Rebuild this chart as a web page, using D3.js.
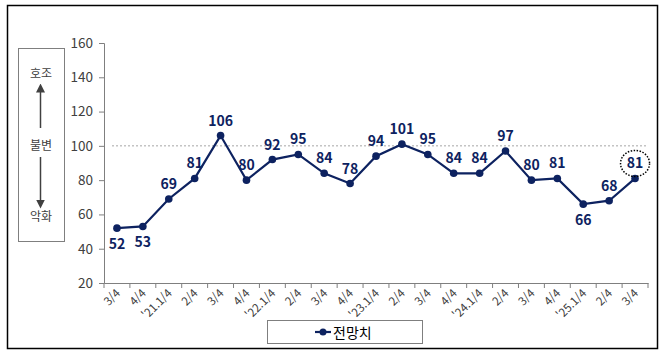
<!DOCTYPE html>
<html lang="ko">
<head>
<meta charset="UTF-8">
<script src="https://cdn.jsdelivr.net/npm/d3@7"></script>
<style>
  body { margin: 0; background: #fff; }
  svg text { font-family: "Noto Sans CJK KR", "Noto Sans", sans-serif; }
</style>
</head>
<body>
<div id="chart"></div>
<script>
// 분기 라벨과 전망치
const quarters = ["3/4", "4/4", "'21.1/4", "2/4", "3/4", "4/4", "'22.1/4", "2/4", "3/4", "4/4",
  "'23.1/4", "2/4", "3/4", "4/4", "'24.1/4", "2/4", "3/4", "4/4", "'25.1/4", "2/4", "3/4"];
const values = [52, 53, 69, 81, 106, 80, 92, 95, 84, 78, 94, 101, 95, 84, 84, 97, 80, 81, 66, 68, 81];
const yTicks = [20, 40, 60, 80, 100, 120, 140, 160];
// 라벨 위치 (a: 위, b: 아래)
const labelSide = ["b", "b", "a", "a", "a", "a", "a", "a", "a", "a",
  "a", "a", "a", "a", "a", "a", "a", "a", "b", "a", "a"];

const width = 665, height = 353;
const svg = d3.select("#chart").append("svg")
  .attr("width", width).attr("height", height);

const navy = "#0d2260";

// 바깥 테두리
svg.append("rect")
  .attr("x", 7.5).attr("y", 5.5).attr("width", 650).attr("height", 343)
  .attr("fill", "none").attr("stroke", "#000").attr("stroke-width", 1.5);

const x = d3.scaleBand().domain(d3.range(quarters.length)).range([104, 648]);
const y = d3.scaleLinear().domain([20, 160]).range([283, 43]);

// y축
const yAxis = svg.append("g")
  .attr("transform", "translate(104,0)")
  .call(d3.axisLeft(y).tickValues(yTicks).tickSize(5).tickPadding(6));
yAxis.select(".domain").attr("stroke", "#7f7f7f");
yAxis.selectAll(".tick line").attr("stroke", "#7f7f7f");
yAxis.selectAll(".tick text").attr("fill", "#404040").attr("font-size", 13.5)
  .attr("font-family", "Liberation Sans, Arial, sans-serif");

// x축
const xAxis = svg.append("g")
  .attr("transform", "translate(0,283)")
  .call(d3.axisBottom(x).tickSize(0).tickFormat(i => quarters[i]));
xAxis.select(".domain").attr("stroke", "#7f7f7f");
xAxis.selectAll(".tick text")
  .attr("fill", "#404040").attr("font-size", 11.5)
  .attr("font-family", "Liberation Sans, Arial, sans-serif")
  .attr("text-anchor", "end")
  .attr("transform", "translate(-1,6) rotate(-45)")
  .attr("dy", "0.35em");
// 구간 눈금
svg.append("g").selectAll("line")
  .data(d3.range(quarters.length + 1))
  .join("line")
  .attr("x1", i => i < quarters.length ? x(i) : x.range()[1])
  .attr("x2", i => i < quarters.length ? x(i) : x.range()[1])
  .attr("y1", 283).attr("y2", 288)
  .attr("stroke", "#7f7f7f");

// 100 기준선
svg.append("line")
  .attr("x1", 112).attr("x2", 648)
  .attr("y1", y(100)).attr("y2", y(100))
  .attr("stroke", "#a6a6a6").attr("stroke-dasharray", "2,2").attr("stroke-width", 1);

// 선
const cx = i => x(i) + x.bandwidth() / 2;
const line = d3.line().x((d, i) => cx(i)).y(d => y(d));
svg.append("path")
  .datum(values)
  .attr("fill", "none").attr("stroke", navy).attr("stroke-width", 2.2)
  .attr("d", line);

svg.append("g").selectAll("circle")
  .data(values)
  .join("circle")
  .attr("cx", (d, i) => cx(i)).attr("cy", d => y(d)).attr("r", 3.8)
  .attr("fill", navy);

// 값 라벨
svg.append("g").selectAll("text")
  .data(values)
  .join("text")
  .attr("x", (d, i) => cx(i))
  .attr("y", (d, i) => labelSide[i] === "b" ? y(d) + 21 : y(d) - 10)
  .attr("text-anchor", "middle")
  .attr("fill", navy)
  .attr("font-size", 14).attr("font-weight", "bold")
  .attr("font-family", "Liberation Sans, Arial, sans-serif")
  .text(d => d);

// 마지막 값 강조 원
const last = values.length - 1;
svg.append("ellipse")
  .attr("cx", cx(last)).attr("cy", y(values[last]) - 15)
  .attr("rx", 14.5).attr("ry", 13)
  .attr("fill", "none").attr("stroke", "#000").attr("stroke-width", 1.5)
  .attr("stroke-dasharray", "1.5,1.5");

// 왼쪽 설명 상자
svg.append("rect")
  .attr("x", 18.5).attr("y", 48.5).attr("width", 46).attr("height", 193)
  .attr("fill", "none").attr("stroke", "#7f7f7f");
const sideText = [["호조", 78], ["불변", 150], ["악화", 221]];
svg.append("g").selectAll("text")
  .data(sideText)
  .join("text")
  .attr("x", 41).attr("y", d => d[1])
  .attr("text-anchor", "middle").attr("font-size", 12).attr("fill", "#404040")
  .text(d => d[0]);

svg.append("defs").append("marker")
  .attr("id", "arr").attr("viewBox", "0 0 10 10").attr("refX", 5).attr("refY", 5)
  .attr("markerWidth", 6).attr("markerHeight", 6).attr("orient", "auto-start-reverse")
  .append("path").attr("d", "M0,0L10,5L0,10z").attr("fill", "#404040");
svg.append("line").attr("x1", 40.5).attr("x2", 40.5).attr("y1", 128).attr("y2", 88)
  .attr("stroke", "#404040").attr("stroke-width", 1.5).attr("marker-end", "url(#arr)");
svg.append("line").attr("x1", 40.5).attr("x2", 40.5).attr("y1", 157).attr("y2", 204)
  .attr("stroke", "#404040").attr("stroke-width", 1.5).attr("marker-end", "url(#arr)");

// 범례
svg.append("rect")
  .attr("x", 267.5).attr("y", 320.5).attr("width", 155).attr("height", 23)
  .attr("fill", "#fff").attr("stroke", "#7f7f7f");
svg.append("line").attr("x1", 315).attr("x2", 331).attr("y1", 332).attr("y2", 332)
  .attr("stroke", navy).attr("stroke-width", 2.2);
svg.append("circle").attr("cx", 323).attr("cy", 332).attr("r", 3.5).attr("fill", navy);
svg.append("text").attr("x", 333).attr("y", 337.5)
  .attr("font-size", 14).attr("fill", "#000").text("전망치");
</script>
</body>
</html>
